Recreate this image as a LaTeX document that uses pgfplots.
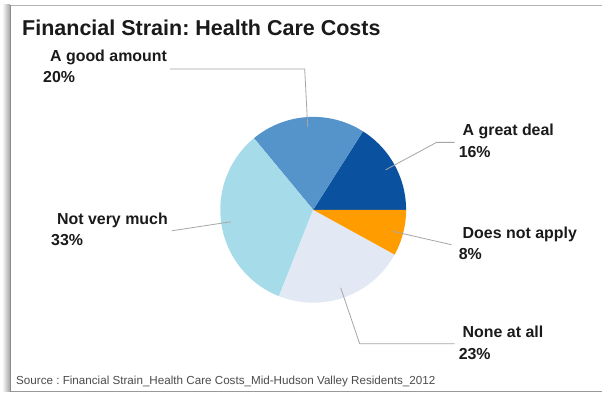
\documentclass[border=0pt]{standalone}
\usepackage{pgfplots}
\pgfplotsset{compat=1.18}
\usepackage{pgfplotstable}
\usepackage{fontspec}
\setmainfont{Liberation Sans}
\frenchspacing
\definecolor{cGreat}{HTML}{0A52A0}
\definecolor{cGood}{HTML}{5593CB}
\definecolor{cNotMuch}{HTML}{A6DCEA}
\definecolor{cNone}{HTML}{E2E9F5}
\definecolor{cNA}{HTML}{FF9C00}
\definecolor{cLead}{HTML}{A6A6A6}
\definecolor{cTxt}{HTML}{1A1A1A}
% share of respondents, counter-clockwise from 3 o'clock
\pgfplotstableread{
label pct
great 16
good 20
notmuch 33
none 23
na 8
}\piedata
\begin{document}
\begin{tikzpicture}
\pgfplotstablegetelem{0}{pct}\of\piedata\pgfmathsetmacro\pA{\pgfplotsretval}
\pgfplotstablegetelem{1}{pct}\of\piedata\pgfmathsetmacro\pB{\pgfplotsretval}
\pgfplotstablegetelem{2}{pct}\of\piedata\pgfmathsetmacro\pC{\pgfplotsretval}
\pgfplotstablegetelem{3}{pct}\of\piedata\pgfmathsetmacro\pD{\pgfplotsretval}
\pgfplotstablegetelem{4}{pct}\of\piedata\pgfmathsetmacro\pE{\pgfplotsretval}
\pgfmathsetmacro\tot{\pA+\pB+\pC+\pD+\pE}
\pgfmathsetmacro\aA{0}
\pgfmathsetmacro\aB{\aA+360*\pA/\tot}
\pgfmathsetmacro\aC{\aB+360*\pB/\tot}
\pgfmathsetmacro\aD{\aC+360*\pC/\tot}
\pgfmathsetmacro\aE{\aD+360*\pD/\tot}
\pgfmathsetmacro\aF{\aE+360*\pE/\tot}
\def\cx{313.5}\def\cy{210}\def\rr{93}
\begin{axis}[
  at={(0,0)}, anchor=south west,
  scale only axis, width=603bp, height=394bp,
  xmin=0, xmax=603, ymin=0, ymax=394, y dir=reverse,
  enlargelimits=false, hide axis, clip=false,
]
\path (axis cs:0,0) rectangle (axis cs:603,394);
% frame with shadow
\shade[left color=white, right color=black!35] (axis cs:2,5) rectangle (axis cs:10,392);
\fill[white] (axis cs:10,5) rectangle (axis cs:603,392);
\draw[black!30, line width=1bp] (axis cs:10,5.5) -- (axis cs:603,5.5);
\draw[black!40, line width=1.2bp] (axis cs:10,391.5) -- (axis cs:603,391.5);
\draw[black!45, line width=1bp] (axis cs:10.5,5) -- (axis cs:10.5,392);
% slices
\addplot[fill=cGreat, draw=none, domain=\aA:\aB, samples=40, variable=\t]
  ({\cx+\rr*cos(\t)},{\cy-\rr*sin(\t)}) -- (axis cs:\cx,\cy) -- cycle;
\addplot[fill=cGood, draw=none, domain=\aB:\aC, samples=40, variable=\t]
  ({\cx+\rr*cos(\t)},{\cy-\rr*sin(\t)}) -- (axis cs:\cx,\cy) -- cycle;
\addplot[fill=cNotMuch, draw=none, domain=\aC:\aD, samples=60, variable=\t]
  ({\cx+\rr*cos(\t)},{\cy-\rr*sin(\t)}) -- (axis cs:\cx,\cy) -- cycle;
\addplot[fill=cNone, draw=none, domain=\aD:\aE, samples=40, variable=\t]
  ({\cx+\rr*cos(\t)},{\cy-\rr*sin(\t)}) -- (axis cs:\cx,\cy) -- cycle;
\addplot[fill=cNA, draw=none, domain=\aE:\aF, samples=30, variable=\t]
  ({\cx+\rr*cos(\t)},{\cy-\rr*sin(\t)}) -- (axis cs:\cx,\cy) -- cycle;
% leader lines
\addplot[cLead, line width=0.8bp] coordinates {(170,69) (305,69) (308,127)};
\addplot[cLead, line width=0.8bp] coordinates {(386,170) (437,142.5) (455,142.5)};
\addplot[cLead, line width=0.8bp] coordinates {(393,231.5) (452,245)};
\addplot[cLead, line width=0.8bp] coordinates {(172,231) (231,222)};
\addplot[cLead, line width=0.8bp] coordinates {(341,288) (360,344) (455,344)};
% texts
\begin{scope}[every node/.style={inner sep=0pt, anchor=base west, text=cTxt}]
\node[font=\fontsize{21.6}{25}\selectfont\bfseries] at (axis cs:22,36) {Financial Strain: Health Care Costs};
\node[font=\fontsize{16}{19}\selectfont\bfseries] at (axis cs:50,62) {A good amount};
\node[font=\fontsize{16}{19}\selectfont\bfseries] at (axis cs:43,83) {20\%};
\node[font=\fontsize{16}{19}\selectfont\bfseries] at (axis cs:463,136) {A great deal};
\node[font=\fontsize{16}{19}\selectfont\bfseries] at (axis cs:459,157.5) {16\%};
\node[font=\fontsize{16}{19}\selectfont\bfseries] at (axis cs:463,239) {Does not apply};
\node[font=\fontsize{16}{19}\selectfont\bfseries] at (axis cs:459,260) {8\%};
\node[font=\fontsize{16}{19}\selectfont\bfseries] at (axis cs:57,224.5) {Not very much};
\node[font=\fontsize{16}{19}\selectfont\bfseries] at (axis cs:51,246) {33\%};
\node[font=\fontsize{16}{19}\selectfont\bfseries] at (axis cs:463,338) {None at all};
\node[font=\fontsize{16}{19}\selectfont\bfseries] at (axis cs:459,360) {23\%};
\node[font=\fontsize{11.7}{14}\selectfont, text=black!70] at (axis cs:16,385) {Source : Financial Strain\_Health Care Costs\_Mid-Hudson Valley Residents\_2012};
\end{scope}
\end{axis}
\end{tikzpicture}
\end{document}
